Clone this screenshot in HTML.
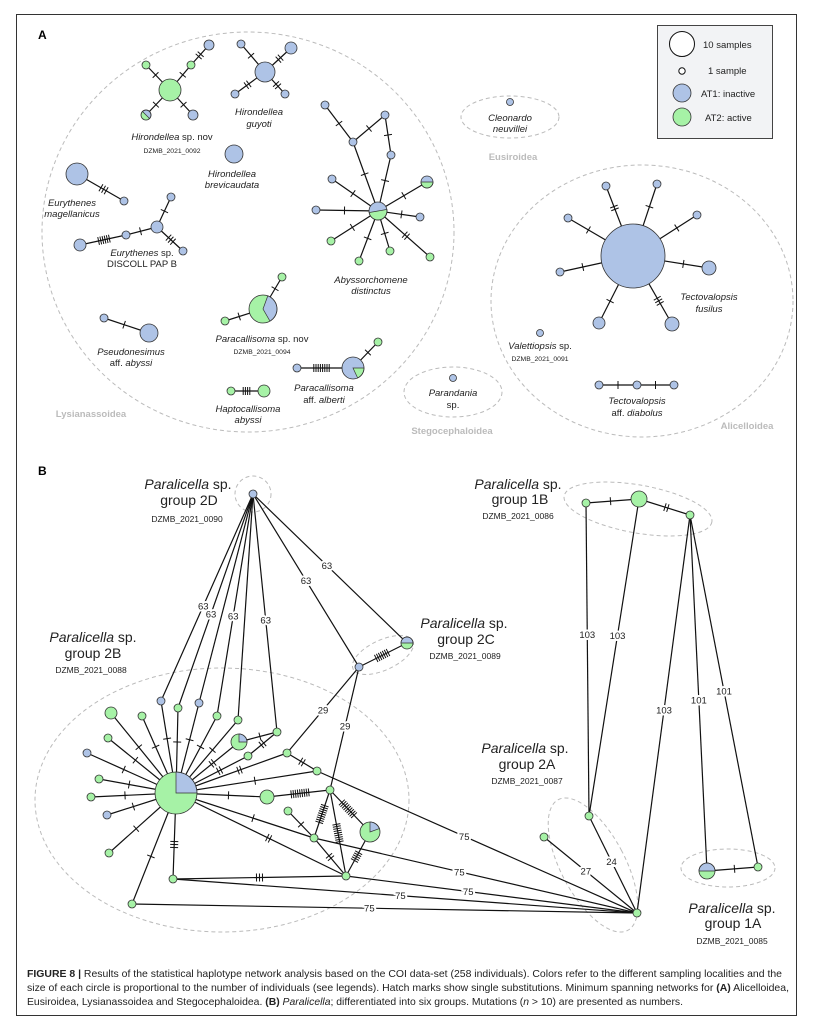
<!DOCTYPE html>
<html><head><meta charset="utf-8"><style>
body{margin:0;background:#fff}
svg{display:block}
.sp{font-family:"Liberation Sans",sans-serif;font-style:italic;font-size:9.5px;fill:#222;text-anchor:middle}
.sn{font-style:normal}
.dz{font-family:"Liberation Sans",sans-serif;font-size:6.8px;fill:#222;text-anchor:middle}
.sf{font-family:"Liberation Sans",sans-serif;font-weight:bold;font-size:9.5px;fill:#bbb;text-anchor:middle}
.gl{font-family:"Liberation Sans",sans-serif;font-size:14px;fill:#222;text-anchor:middle}
.gd{font-family:"Liberation Sans",sans-serif;font-size:8.5px;fill:#222;text-anchor:middle}
.num{font-family:"Liberation Sans",sans-serif;font-size:9.5px;fill:#222;text-anchor:middle;paint-order:stroke;stroke:#fff;stroke-width:4px}
.lg{font-family:"Liberation Sans",sans-serif;font-size:9.5px;fill:#222}
.cap{font-family:"Liberation Sans",sans-serif;font-size:10.5px;fill:#222}
</style></head><body>
<svg id="s" width="814" height="1034" viewBox="0 0 814 1034" xmlns="http://www.w3.org/2000/svg">
<rect x="16.5" y="14.5" width="780" height="1001" fill="#fff" stroke="#333" stroke-width="1"/>
<g fill="none" stroke="#bbb" stroke-width="1" stroke-dasharray="4,3">
<ellipse cx="248" cy="232" rx="206" ry="200"/>
<ellipse cx="510" cy="117" rx="49" ry="21"/>
<ellipse cx="453" cy="392" rx="49" ry="25"/>
<ellipse cx="642" cy="301" rx="151" ry="136"/>
<circle cx="253" cy="494" r="18"/>
<ellipse cx="383" cy="655" rx="33" ry="15" transform="rotate(-25 383 655)"/>
<ellipse cx="222" cy="800" rx="187" ry="132"/>
<ellipse cx="593" cy="865" rx="32" ry="74" transform="rotate(-28 593 865)"/>
<ellipse cx="638" cy="509" rx="75" ry="24" transform="rotate(10 638 509)"/>
<ellipse cx="728" cy="868" rx="47" ry="19"/>
</g>
<g id="net"></g>
<rect x="657.5" y="25.5" width="115" height="113" fill="#f2f3f5" stroke="#444"/>
<circle cx="682" cy="44" r="12.5" fill="#fff" stroke="#111"/>
<circle cx="682" cy="71" r="3.2" fill="#fff" stroke="#111"/>
<circle cx="682" cy="93" r="9" fill="#aec3e6" stroke="#333" stroke-width=".8"/>
<circle cx="682" cy="117" r="9" fill="#a6f2a6" stroke="#333" stroke-width=".8"/>
<text class="lg" x="703" y="48">10 samples</text>
<text class="lg" x="708" y="74">1 sample</text>
<text class="lg" x="701" y="97">AT1: inactive</text>
<text class="lg" x="705" y="121">AT2: active</text>
<text x="38" y="39" font-family="Liberation Sans" font-weight="bold" font-size="12">A</text>
<text x="38" y="475" font-family="Liberation Sans" font-weight="bold" font-size="12">B</text>
<text class="sp" x="172" y="140">Hirondellea<tspan class="sn"> sp. nov</tspan></text>
<text class="dz" x="172" y="153">DZMB_2021_0092</text>
<text class="sp" x="259" y="115">Hirondellea</text><text class="sp" x="259" y="127">guyoti</text>
<text class="sp" x="232" y="177">Hirondellea</text><text class="sp" x="232" y="188">brevicaudata</text>
<text class="sp" x="72" y="206">Eurythenes</text><text class="sp" x="72" y="217">magellanicus</text>
<text class="sp" x="142" y="256">Eurythenes<tspan class="sn"> sp.</tspan></text>
<text class="sp sn" x="142" y="267">DISCOLL PAP B</text>
<text class="sp" x="371" y="283">Abyssorchomene</text><text class="sp" x="371" y="294">distinctus</text>
<text class="sp" x="262" y="342">Paracallisoma<tspan class="sn"> sp. nov</tspan></text>
<text class="dz" x="262" y="354">DZMB_2021_0094</text>
<text class="sp" x="131" y="355">Pseudonesimus</text><text class="sp" x="131" y="366"><tspan class="sn">aff. </tspan>abyssi</text>
<text class="sp" x="324" y="391">Paracallisoma</text><text class="sp" x="324" y="403"><tspan class="sn">aff. </tspan>alberti</text>
<text class="sp" x="248" y="412">Haptocallisoma</text><text class="sp" x="248" y="423">abyssi</text>
<text class="sf" x="91" y="417">Lysianassoidea</text>
<text class="sp" x="510" y="121">Cleonardo</text><text class="sp" x="510" y="132">neuvillei</text>
<text class="sf" x="513" y="160">Eusiroidea</text>
<text class="sp" x="453" y="396">Parandania</text><text class="sp sn" x="453" y="408">sp.</text>
<text class="sf" x="452" y="434">Stegocephaloidea</text>
<text class="sp" x="709" y="300">Tectovalopsis</text><text class="sp" x="709" y="312">fusilus</text>
<text class="sp" x="540" y="349">Valettiopsis<tspan class="sn"> sp.</tspan></text>
<text class="dz" x="540" y="361">DZMB_2021_0091</text>
<text class="sp" x="637" y="404">Tectovalopsis</text><text class="sp" x="637" y="416"><tspan class="sn">aff. </tspan>diabolus</text>
<text class="sf" x="747" y="429">Alicelloidea</text>

<text class="gl" x="188" y="489"><tspan font-style="italic">Paralicella</tspan> sp.</text>
<text class="gl" x="189" y="505">group 2D</text><text class="gd" x="187" y="522">DZMB_2021_0090</text>
<text class="gl" x="93" y="642"><tspan font-style="italic">Paralicella</tspan> sp.</text>
<text class="gl" x="93" y="658">group 2B</text><text class="gd" x="91" y="673">DZMB_2021_0088</text>
<text class="gl" x="464" y="628"><tspan font-style="italic">Paralicella</tspan> sp.</text>
<text class="gl" x="466" y="644">group 2C</text><text class="gd" x="465" y="659">DZMB_2021_0089</text>
<text class="gl" x="518" y="489"><tspan font-style="italic">Paralicella</tspan> sp.</text>
<text class="gl" x="520" y="504">group 1B</text><text class="gd" x="518" y="519">DZMB_2021_0086</text>
<text class="gl" x="525" y="753"><tspan font-style="italic">Paralicella</tspan> sp.</text>
<text class="gl" x="527" y="769">group 2A</text><text class="gd" x="527" y="784">DZMB_2021_0087</text>
<text class="gl" x="732" y="913"><tspan font-style="italic">Paralicella</tspan> sp.</text>
<text class="gl" x="733" y="928">group 1A</text><text class="gd" x="732" y="944">DZMB_2021_0085</text>
<g id="nums"></g>
<text class="cap" x="27" y="977" textLength="755" lengthAdjust="spacingAndGlyphs"><tspan font-weight="bold">FIGURE 8 |</tspan> Results of the statistical haplotype network analysis based on the COI data-set (258 individuals). Colors refer to the different sampling localities and the</text>
<text class="cap" x="27" y="991" textLength="762" lengthAdjust="spacingAndGlyphs">size of each circle is proportional to the number of individuals (see legends). Hatch marks show single substitutions. Minimum spanning networks for <tspan font-weight="bold">(A)</tspan> Alicelloidea,</text>
<text class="cap" x="27" y="1005" textLength="656" lengthAdjust="spacingAndGlyphs">Eusiroidea, Lysianassoidea and Stegocephaloidea. <tspan font-weight="bold">(B)</tspan> <tspan font-style="italic">Paralicella</tspan>; differentiated into six groups. Mutations (<tspan font-style="italic">n</tspan> &gt; 10) are presented as numbers.</text>
</svg>
<script>
var NS="http://www.w3.org/2000/svg",net=document.getElementById("net"),nums=document.getElementById("nums");
var G="#a6f2a6",B="#aec3e6";
var L=document.createElementNS(NS,"g"),C=document.createElementNS(NS,"g");net.appendChild(L);net.appendChild(C);
function el(p,t,a){var e=document.createElementNS(NS,t);for(var k in a)e.setAttribute(k,a[k]);p.appendChild(e);return e;}
function node(n){var x=n[0],y=n[1],r=n[2],t=n[3];
 if(t=="g"||t=="b"){el(C,"circle",{cx:x,cy:y,r:r,fill:t=="g"?G:B,stroke:"#333","stroke-width":.8});return;}
 el(C,"circle",{cx:x,cy:y,r:r,fill:t.base});
 var a0=t.a0*Math.PI/180,a1=t.a1*Math.PI/180;var large=((t.a1-t.a0)%360)>180?1:0;
 el(C,"path",{d:"M"+x+","+y+"L"+(x+r*Math.cos(a0))+","+(y+r*Math.sin(a0))+"A"+r+","+r+" 0 "+large+" 1 "+(x+r*Math.cos(a1))+","+(y+r*Math.sin(a1))+"Z",fill:t.w,stroke:"#333","stroke-width":.7});
 el(C,"circle",{cx:x,cy:y,r:r,fill:"none",stroke:"#333","stroke-width":.8});}
function edge(a,b,nh,sp){sp=sp||3;
 el(L,"line",{x1:a[0],y1:a[1],x2:b[0],y2:b[1],stroke:"#111","stroke-width":1.2});
 if(!nh)return;var dx=b[0]-a[0],dy=b[1]-a[1],d=Math.hypot(dx,dy),ux=dx/d,uy=dy/d;
 var s=a[2]||0,e=d-(b[2]||0),m=(s+e)/2;
 for(var i=0;i<nh;i++){var o=m+(i-(nh-1)/2)*sp,cx=a[0]+ux*o,cy=a[1]+uy*o;
  el(L,"line",{x1:cx-uy*4,y1:cy+ux*4,x2:cx+uy*4,y2:cy-ux*4,stroke:"#111","stroke-width":1});}}
function num(a,b,txt,t){var x=a[0]+(b[0]-a[0])*t,y=a[1]+(b[1]-a[1])*t;var e=el(nums,"text",{x:x,y:y+3.5,"class":"num"});e.textContent=txt;}
function star(h,list){list.forEach(function(s){edge(h,s[0],s[1],s[2]);});}
var all=[];function N(x,y,r,t){var n=[x,y,r,t];all.push(n);return n;}
function P(base,w,a0,a1){return {base:base,w:w,a0:a0,a1:a1};}
// Panel A
var h1=N(170,90,11,"g"),g1=N(191,65,4,"g");
star(h1,[[N(146,65,4,"g"),1],[g1,1],[N(146,115,5,P(G,B,-135,45)),1],[N(193,115,5,"b"),1]]);edge(g1,N(209,45,5,"b"),2);
var h2=N(265,72,10,"b");star(h2,[[N(241,44,4,"b"),1],[N(291,48,6,"b"),2],[N(235,94,4,"b"),2],[N(285,94,4,"b"),2]]);
N(234,154,9,"b");
edge(N(77,174,11,"b"),N(124,201,4,"b"),3);
var e1=N(157,227,6,"b"),e2=N(126,235,4,"b");star(e1,[[N(171,197,4,"b"),1],[e2,1],[N(183,251,4,"b"),3]]);edge(N(80,245,6,"b"),e2,6,2.2);
var ab=N(378,211,9,P(B,G,-10,170)),a1=N(353,142,4,"b"),a2=N(385,115,4,"b"),a3=N(391,155,4,"b");
edge(ab,a1,1);edge(N(325,105,4,"b"),a1,1);edge(a1,a2,1);edge(a2,a3,1);edge(a3,ab,1);
star(ab,[[N(332,179,4,"b"),1],[N(427,182,6,P(B,G,0,180)),1],[N(316,210,4,"b"),1],[N(420,217,4,"b"),1],[N(331,241,4,"g"),1],[N(359,261,4,"g"),1],[N(390,251,4,"g"),1],[N(430,257,4,"g"),2]]);
var pc=N(263,309,14,P(G,B,-70,60));star(pc,[[N(282,277,4,"g"),1],[N(225,321,4,"g"),1]]);
edge(N(104,318,4,"b"),N(149,333,9,"b"),1);
var pa=N(353,368,11,P(B,G,0,65));star(pa,[[N(297,368,4,"b"),8,2.2],[N(378,342,4,"g"),1]]);
edge(N(231,391,4,"g"),N(264,391,6,"g"),4,2.2);
N(510,102,3.5,"b");N(453,378,3.5,"b");
var tf=N(633,256,32,"b");
star(tf,[[N(606,186,4,"b"),2],[N(657,184,4,"b"),1],[N(568,218,4,"b"),1],[N(697,215,4,"b"),1],[N(560,272,4,"b"),1],[N(709,268,7,"b"),1],[N(599,323,6,"b"),1],[N(672,324,7,"b"),3]]);
N(540,333,3.5,"b");
var d1=N(599,385,4,"b"),d2=N(637,385,4,"b");edge(d1,d2,1);edge(d2,N(674,385,4,"b"),1);
// Panel B
var D=N(253,494,4,"b"),cb=N(359,667,4,"b"),cp=N(407,643,6,P(G,B,180,360));
var hub=N(176,793,21,P(G,B,-90,0));
var a=N(161,701,4,"b"),b=N(178,708,4,"g"),c=N(199,703,4,"b"),d=N(217,716,4,"g"),e=N(238,720,4,"g"),f=N(277,732,4,"g"),
g=N(239,742,8,P(G,B,-90,0)),h=N(248,756,4,"g"),i=N(287,753,4,"g"),j=N(317,771,4,"g"),k=N(111,713,6,"g"),l=N(142,716,4,"g"),
m=N(108,738,4,"g"),n=N(87,753,4,"b"),o=N(99,779,4,"g"),p=N(91,797,4,"g"),q=N(107,815,4,"b"),r=N(109,853,4,"g"),
s=N(173,879,4,"g"),t=N(132,904,4,"g"),u=N(267,797,7,"g"),v=N(330,790,4,"g"),w=N(288,811,4,"g"),x=N(314,838,4,"g"),
y=N(370,832,10,P(G,B,-90,-20)),z=N(346,876,4,"g");
var P1=N(589,816,4,"g"),P2=N(544,837,4,"g"),P3=N(637,913,4,"g");
var Q1=N(586,503,4,"g"),Q2=N(639,499,8,"g"),Q3=N(690,515,4,"g"),R1=N(707,871,8,P(G,B,180,360)),R2=N(758,867,4,"g");
[a,b,c,d,e,f].forEach(function(nd){edge(D,nd,0);});
num(D,a,"63",.54);num(D,b,"63",.56);num(D,d,"63",.55);num(D,f,"63",.53);
edge(D,cb,0);num(D,cb,"63",.5);edge(D,cp,0);num(D,cp,"63",.48);
edge(cb,cp,7,2.2);
edge(cb,i,0);num(cb,i,"29",.5);edge(cb,v,0);num(cb,v,"29",.48);
star(hub,[[a,1],[b,1],[c,1],[d,1],[e,1],[k,1],[l,1],[m,1],[n,1],[o,1],[p,1],[q,1],[r,1],[t,1],[g,2],[h,2],[i,2],[j,1],[u,1],[x,1],[z,2],[s,3]]);
edge(g,f,1);edge(h,f,2);edge(i,j,2);edge(u,v,9,2.2);edge(v,x,9,2.2);edge(v,z,9,2.2);edge(v,y,9,2.2);edge(y,z,5,2.2);
edge(w,x,1);edge(x,z,2);edge(s,z,3);
[[j,.46],[x,.45],[z,.42],[s,.49],[t,.47]].forEach(function(q2){edge(q2[0],P3,0);num(q2[0],P3,"75",q2[1]);});
edge(P1,P3,0);num(P1,P3,"24",.47);edge(P2,P3,0);num(P2,P3,"27",.45);
edge(Q1,Q2,1);edge(Q2,Q3,2);
edge(Q1,P1,0);num(Q1,P1,"103",.42);edge(Q2,P1,0);num(Q2,P1,"103",.43);edge(Q3,P3,0);num(Q3,P3,"103",.49);
edge(Q3,R1,0);num(Q3,R1,"101",.52);edge(Q3,R2,0);num(Q3,R2,"101",.5);edge(R1,R2,1);
all.forEach(node);
</script>
</body></html>
